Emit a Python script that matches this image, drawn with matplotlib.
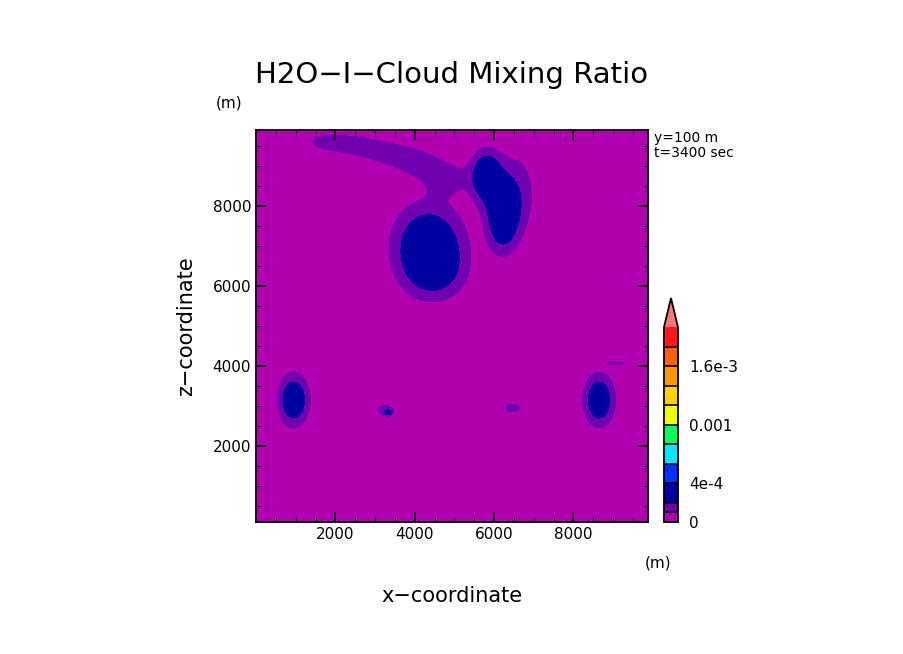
import numpy as np
import matplotlib
matplotlib.use("Agg")
import matplotlib.pyplot as plt

# contour levels and colours
levels = [0, 1e-4, 2e-4, 4e-4, 6e-4, 8e-4, 1e-3, 1.2e-3, 1.4e-3, 1.6e-3, 1.8e-3, 2e-3]
colors = ["#b000b0", "#7000b0", "#0000a0", "#0030ff", "#00e8ff", "#00ff60",
          "#f0ff00", "#ffd000", "#ff9800", "#ff6000", "#ff1818"]
over_color = "#ff7878"
cbar_ticks = [0, 4e-4, 1e-3, 1.6e-3]
cbar_labels = ["0", "4e-4", "0.001", "1.6e-3"]

# cloud blobs (estimated): centre x, centre z, sigma x, sigma z, amplitude
blob_x = [4350, 4500, 5800, 6200, 6600, 1800, 2600, 3400, 4100, 4800, 950, 8650, 3250, 6470, 9100, 3330]
blob_z = [7050, 6300, 8750, 7750, 8300, 9600, 9500, 9300, 9050, 8700, 3150, 3150, 2900, 2950, 4060, 2830]
blob_sx = [620, 550, 270, 270, 350, 450, 450, 450, 400, 400, 270, 270, 200, 200, 250, 60]
blob_sz = [700, 500, 450, 600, 800, 180, 200, 220, 250, 300, 450, 450, 120, 120, 40, 40]
blob_a = [3.4e-4, 1.6e-4, 3.4e-4, 3.4e-4, 1.5e-4, 1.3e-4, 1.35e-4, 1.4e-4, 1.4e-4, 1.45e-4,
          3.3e-4, 3.3e-4, 1.5e-4, 1.4e-4, 1.2e-4, 3.0e-4]
field_cap = 3.8e-4

x = np.linspace(0, 9880, 400)
z = np.linspace(100, 9900, 400)
X, Z = np.meshgrid(x, z)
F = np.zeros_like(X)
for cx, cz, sx, sz, a in zip(blob_x, blob_z, blob_sx, blob_sz, blob_a):
    F += a * np.exp(-0.5 * (((X - cx) / sx) ** 2 + ((Z - cz) / sz) ** 2))
F = np.minimum(F, field_cap)

fig = plt.figure(figsize=(9.04, 6.54), dpi=100)
ax = fig.add_axes([0.2832, 0.2018, 0.4336, 0.5994])
cf = ax.contourf(X, Z, F, levels=levels, colors=colors, extend="max")
cf.cmap.set_over(over_color)
cf.changed()
ax.set_xlim(0, 9880)
ax.set_ylim(100, 9900)
ax.set_xticks([2000, 4000, 6000, 8000])
ax.set_yticks([2000, 4000, 6000, 8000])
ax.set_xticks(np.arange(500, 9880, 500), minor=True)
ax.set_yticks(np.arange(500, 9900, 500), minor=True)
ax.tick_params(which="both", direction="in", top=True, right=True, labelsize=11)
ax.tick_params(which="major", length=7, width=1.2)
ax.tick_params(which="minor", length=4)
for s in ax.spines.values():
    s.set_linewidth(1.3)
ax.set_xlabel("x\u2212coordinate", fontsize=15, labelpad=32)
ax.set_ylabel("z\u2212coordinate", fontsize=15, labelpad=12)
fig.text(0.5, 0.885, "H2O\u2212I\u2212Cloud Mixing Ratio", fontsize=21, ha="center", va="center")
fig.text(0.253, 0.843, "(m)", fontsize=11, ha="center", va="center")
fig.text(0.728, 0.139, "(m)", fontsize=11, ha="center", va="center")
fig.text(0.723, 0.800, "y=100 m\nt=3400 sec", fontsize=10, ha="left", va="top", linespacing=1.1)

cax = fig.add_axes([0.7345, 0.2018, 0.0155, 0.3425])
cb = fig.colorbar(cf, cax=cax, spacing="proportional", extendfrac=0.15, extend="max")
cb.set_ticks(cbar_ticks)
cb.set_ticklabels(cbar_labels)
cb.ax.tick_params(length=0, labelsize=11, pad=8)
cb.outline.set_linewidth(1.3)
cb.ax.hlines(levels[1:-1], 0, 1, colors="black", linewidth=1.2)

fig.savefig("out.png", dpi=100)
